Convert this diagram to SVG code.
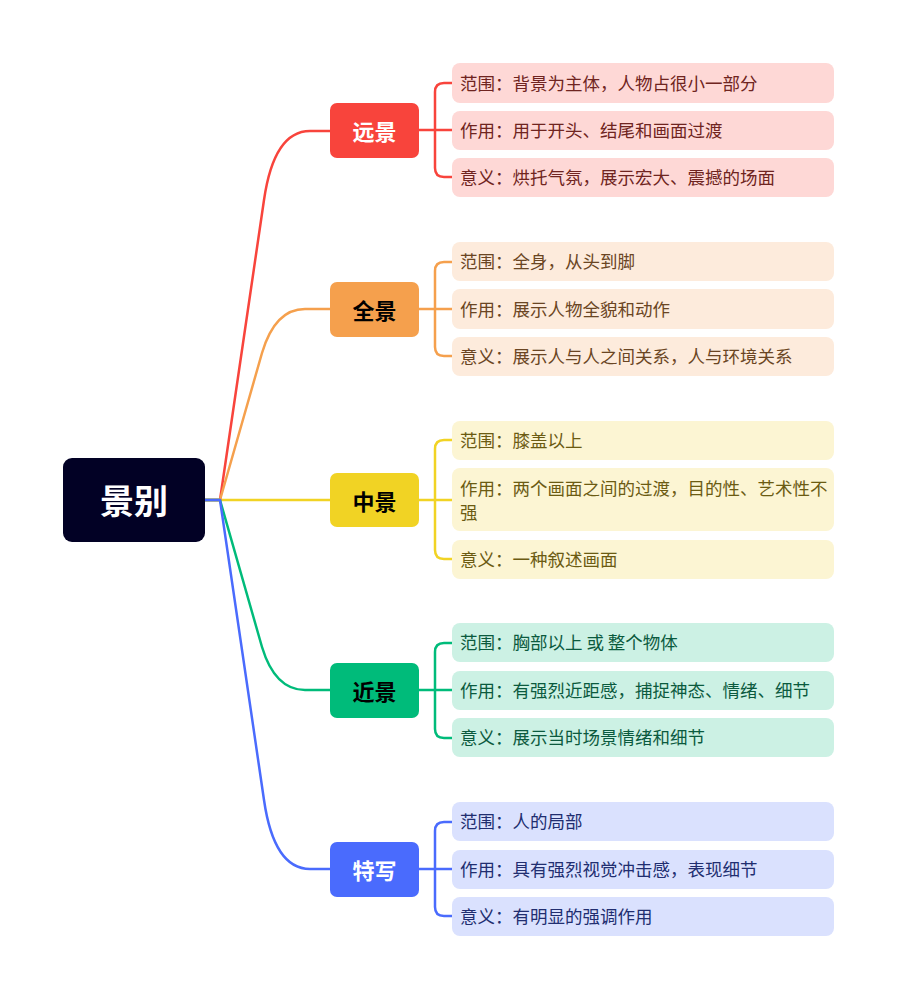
<svg xmlns="http://www.w3.org/2000/svg" width="897" height="1000" viewBox="0 0 897 1000">
<style>
.conn{fill:none;stroke-width:2.5;stroke-linecap:round;stroke-linejoin:round}
.bt{font-family:"Noto Sans CJK SC","Noto Sans",sans-serif;font-weight:bold;font-size:22px;text-anchor:middle;dominant-baseline:central}
.lt{font-family:"Noto Sans CJK SC","Noto Sans",sans-serif;font-size:17.5px;dominant-baseline:central}
.red{stroke:#F8443C}.org{stroke:#F5A04D}.yel{stroke:#F1D324}.grn{stroke:#00BB7A}.blu{stroke:#4A6BFD}
</style>
<rect width="897" height="1000" fill="#FFFFFF"/>
<g id="connectors">
<path class="conn yel" d="M205,500 H330"/>
<path class="conn red" d="M205,500 H220 L264,200 Q274,131 310,131 H330"/>
<path class="conn org" d="M205,500 H220 L262,353 Q275,309 305,309 H330"/>
<path class="conn grn" d="M205,500 H220 L262,647 Q275,690 305,690 H330"/>
<path class="conn blu" d="M205,500 H220 L264,800 Q274,869 310,869 H330"/>
<path class="conn red" d="M419,130 H452 M452,83 H444 Q435,83 435,92 V168 Q435,177 444,177 H452"/>
<path class="conn org" d="M419,309 H452 M452,262 H444 Q435,262 435,271 V347 Q435,356 444,356 H452"/>
<path class="conn yel" d="M419,500 H452 M452,440 H444 Q435,440 435,449 V550 Q435,559 444,559 H452"/>
<path class="conn grn" d="M419,690 H452 M452,643 H444 Q435,643 435,652 V729 Q435,738 444,738 H452"/>
<path class="conn blu" d="M419,869 H452 M452,822 H444 Q435,822 435,831 V907 Q435,916 444,916 H452"/>
</g>
<g id="root">
<rect x="63" y="458" width="142" height="84" rx="9" fill="#020125"/>
<text x="134" y="499" font-family="'Noto Sans CJK SC',sans-serif" font-weight="bold" font-size="34" fill="#FFFFFF" text-anchor="middle" dominant-baseline="central">景别</text>
</g>
<g id="b1">
<rect x="330" y="103" width="89" height="55" rx="7" fill="#F8443C"/>
<text class="bt" x="374.5" y="130" fill="#FFFFFF">远景</text>
</g>
<g id="b2">
<rect x="330" y="282" width="89" height="55" rx="7" fill="#F5A04D"/>
<text class="bt" x="374.5" y="309" fill="#000000">全景</text>
</g>
<g id="b3">
<rect x="330" y="473" width="89" height="54" rx="7" fill="#F1D324"/>
<text class="bt" x="374.5" y="499.5" fill="#000000">中景</text>
</g>
<g id="b4">
<rect x="330" y="663" width="89" height="55" rx="7" fill="#00BB7A"/>
<text class="bt" x="374.5" y="690" fill="#000000">近景</text>
</g>
<g id="b5">
<rect x="330" y="842" width="89" height="55" rx="7" fill="#4A6BFD"/>
<text class="bt" x="374.5" y="869" fill="#FFFFFF">特写</text>
</g>
<g id="l1a"><rect x="452" y="63" width="382" height="40" rx="8" fill="#FED8D6"/><text class="lt" x="460" y="82" fill="#6F2420">范围：背景为主体，人物占很小一部分</text></g>
<g id="l1b"><rect x="452" y="111" width="382" height="39" rx="8" fill="#FED8D6"/><text class="lt" x="460" y="129.5" fill="#6F2420">作用：用于开头、结尾和画面过渡</text></g>
<g id="l1c"><rect x="452" y="158" width="382" height="39" rx="8" fill="#FED8D6"/><text class="lt" x="460" y="176.5" fill="#6F2420">意义：烘托气氛，展示宏大、震撼的场面</text></g>
<g id="l2a"><rect x="452" y="242" width="382" height="39" rx="8" fill="#FDEBDC"/><text class="lt" x="460" y="260.5" fill="#6A4523">范围：全身，从头到脚</text></g>
<g id="l2b"><rect x="452" y="289" width="382" height="40" rx="8" fill="#FDEBDC"/><text class="lt" x="460" y="308" fill="#6A4523">作用：展示人物全貌和动作</text></g>
<g id="l2c"><rect x="452" y="337" width="382" height="39" rx="8" fill="#FDEBDC"/><text class="lt" x="460" y="355.5" fill="#6A4523">意义：展示人与人之间关系，人与环境关系</text></g>
<g id="l3a"><rect x="452" y="421" width="382" height="39" rx="8" fill="#FCF5D3"/><text class="lt" x="460" y="439.5" fill="#6B5B12">范围：膝盖以上</text></g>
<g id="l3b"><rect x="452" y="468" width="382" height="63" rx="8" fill="#FCF5D3"/><text class="lt" x="460" y="487" fill="#6B5B12">作用：两个画面之间的过渡，目的性、艺术性不</text><text class="lt" x="460" y="511" fill="#6B5B12">强</text></g>
<g id="l3c"><rect x="452" y="540" width="382" height="39" rx="8" fill="#FCF5D3"/><text class="lt" x="460" y="558.5" fill="#6B5B12">意义：一种叙述画面</text></g>
<g id="l4a"><rect x="452" y="623" width="382" height="39" rx="8" fill="#CCF1E4"/><text class="lt" x="460" y="641.5" fill="#0B5A3E">范围：胸部以上 或 整个物体</text></g>
<g id="l4b"><rect x="452" y="671" width="382" height="39" rx="8" fill="#CCF1E4"/><text class="lt" x="460" y="689.5" fill="#0B5A3E">作用：有强烈近距感，捕捉神态、情绪、细节</text></g>
<g id="l4c"><rect x="452" y="718" width="382" height="39" rx="8" fill="#CCF1E4"/><text class="lt" x="460" y="736.5" fill="#0B5A3E">意义：展示当时场景情绪和细节</text></g>
<g id="l5a"><rect x="452" y="802" width="382" height="39" rx="8" fill="#DAE1FE"/><text class="lt" x="460" y="820.5" fill="#212E70">范围：人的局部</text></g>
<g id="l5b"><rect x="452" y="850" width="382" height="39" rx="8" fill="#DAE1FE"/><text class="lt" x="460" y="868.5" fill="#212E70">作用：具有强烈视觉冲击感，表现细节</text></g>
<g id="l5c"><rect x="452" y="897" width="382" height="39" rx="8" fill="#DAE1FE"/><text class="lt" x="460" y="915.5" fill="#212E70">意义：有明显的强调作用</text></g>
</svg>
